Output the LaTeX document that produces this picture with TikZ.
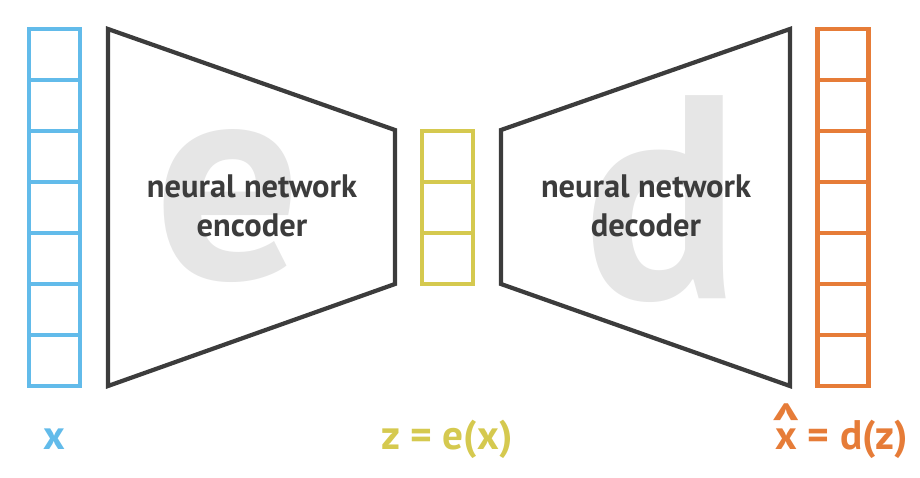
\documentclass[tikz,border=0pt]{standalone}
\usepackage{fontspec}
\setmainfont{PT Sans}
\usepackage{graphicx}
\usepackage{tikz}
\usetikzlibrary{positioning,calc}
\definecolor{aeblue}{HTML}{62BBEA}
\definecolor{aeyellow}{HTML}{D5C94F}
\definecolor{aeorange}{HTML}{E67C38}
\definecolor{aedark}{HTML}{3C3C3C}
\definecolor{aeghost}{HTML}{E6E6E6}
\newcommand{\xhat}{{\setbox0\hbox{x}%
  \rlap{\hbox to \wd0{\hss\raisebox{0.12em}{\scalebox{1.35}[1.4]{\textasciicircum}}\hss}}x}}
\begin{document}
\begin{tikzpicture}[
    x=0.02cm,y=-0.02cm,
    cell/.style  = {rectangle,draw,line width=2.3pt,minimum width=1.02cm,
                    minimum height=1.02cm,inner sep=0pt},
    net/.style   = {aedark,line width=2.4pt,line join=miter},
    ghost/.style = {text=aeghost,font=\fontsize{165}{165}\selectfont\bfseries,
                    inner sep=0pt},
    lbl/.style   = {text=aedark,font=\fontsize{18.5}{22}\selectfont\bfseries,
                    align=center},
    var/.style   = {font=\fontsize{23.5}{26}\selectfont\bfseries,inner sep=0pt},
  ]
  \useasboundingbox (0,0) rectangle (920,477);

  % input / output columns
  \foreach \i in {1,...,7} {
    \node[cell,draw=aeblue]   (x\i) at (54.5,{3.5+51*\i}) {};
    \node[cell,draw=aeorange] (y\i) at (843,{3.5+51*\i}) {};
  }
  % latent code
  \foreach \i in {1,2,3}
    \node[cell,draw=aeyellow] (z\i) at (447.5,{105.5+51*\i}) {};

  % big letters behind the networks
  \node[ghost,anchor=base] (eg) at (228,278) {e};
  \node[ghost,anchor=base] (dg) at (662,298) {d};

  % encoder and decoder
  \draw[net] (108,29) coordinate (enw) -- (395,130) coordinate (ene)
             -- (395,284) coordinate (ese) -- (108,386) coordinate (esw) -- cycle;
  \draw[net] (501,130) coordinate (dnw) -- (790,29) coordinate (dne)
             -- (790,386) coordinate (dse) -- (501,284) coordinate (dsw) -- cycle;

  \node[lbl] (enc) at (252,206) {neural network\\encoder};
  \node[lbl] (dec) at (646,206) {neural network\\decoder};

  % variable names
  \node[var,text=aeblue,anchor=base]   (xl) at (54,449) {x};
  \node[var,text=aeyellow,anchor=base] (zl) at (447,449) {z = e(x)};
  \node[var,text=aeorange,anchor=base] (yl) at (842,449) {\xhat{} = d(z)};

\end{tikzpicture}
\end{document}
